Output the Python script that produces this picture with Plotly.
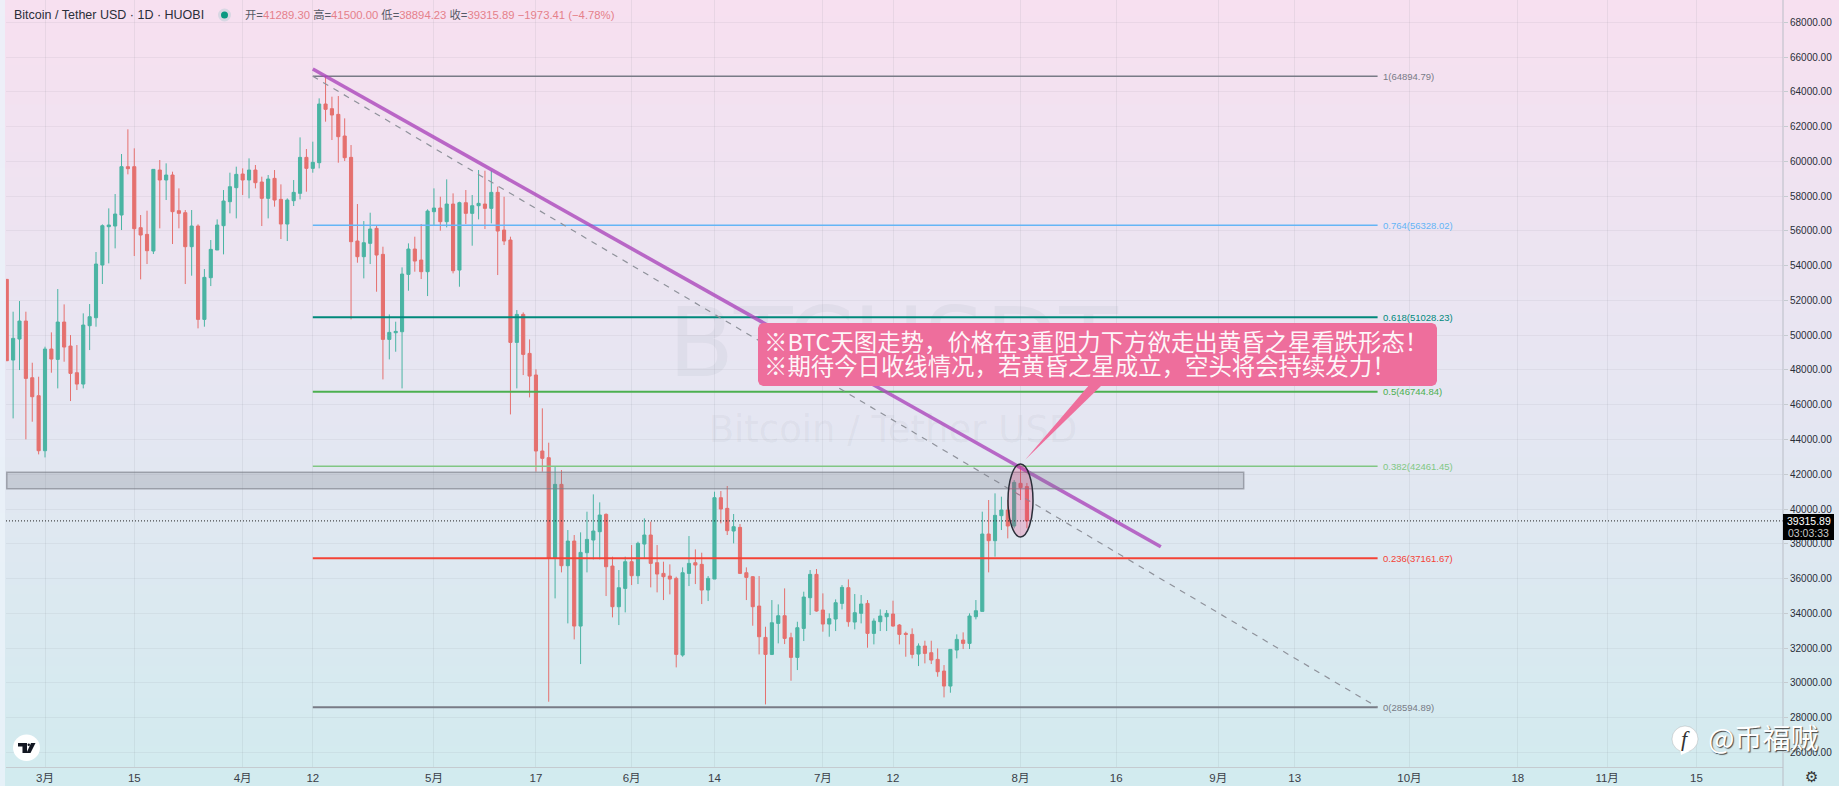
import pandas as pd
import plotly.graph_objects as go

W, H = 1839, 786

# daily candles, Feb 23 -> Aug 2 2021
dates = pd.date_range("2021-02-23", periods=161)
opens = [53211, 48569, 49778, 50814, 47553, 46517, 43353, 49203, 48608, 50756,
         49375, 47841, 47189, 50545, 51005, 54036, 56241, 56280, 56913, 59694,
         59694, 56184, 55800, 54841, 59502, 58927, 59214, 57162, 57047, 55091,
         56280, 50909, 53307, 54899, 56299, 57680, 58486, 59272, 58927, 59502,
         58811, 57872, 59022, 57814, 56394, 57737, 58159, 60230, 59597, 59923,
         63299, 63031, 62704, 61458, 60230, 55416, 54515, 55282, 56145, 54649,
         49758, 50142, 50199, 53498, 54956, 54323, 53652, 57104, 57315, 56529,
         57545, 53747, 57622, 57008, 57449, 57545, 57296, 58216, 56049, 55474,
         49585, 51197, 48952, 47709, 43336, 42952, 37160, 41418, 36738, 38157,
         33266, 37486, 38215, 38694, 39692, 36719, 34379, 35434, 36968, 36163,
         37985, 38503, 36911, 36297, 36143, 36009, 31598, 36297, 36911, 36815,
         35338, 35971, 40651, 40037, 38733, 38944, 36335, 36105, 34417, 32614,
         31636, 33420, 33861, 32596, 31464, 33133, 34897, 36240, 34188, 33382,
         33670, 34571, 35473, 33497, 33996, 34571, 32845, 33516, 33804, 33958,
         33325, 32845, 32787, 31656, 32116, 31733, 31349, 30678, 29815, 31886,
         32461, 32270, 33804, 34111, 38561, 38177, 39616, 39942, 39021, 41476,
         41289.30]
highs = [53211, 51351, 51964, 51351, 48416, 47610, 49337, 50161, 52655, 51772,
         50008, 49433, 51255, 51792, 54784, 56376, 57296, 58121, 60423, 61842,
         60749, 56913, 57162, 59540, 60077, 59886, 59406, 58447, 57200, 57200,
         56376, 53806, 55474, 56663, 58351, 59349, 59694, 59598, 60173, 59790,
         59118, 59214, 59501, 58677, 57871, 58926, 61381, 60710, 61132, 63625,
         64894, 63721, 63759, 62474, 60940, 57545, 56567, 57046, 56337, 55090,
         51197, 50775, 53901, 55282, 55666, 56394, 57238, 58446, 57967, 58964,
         58159, 57679, 58351, 58063, 59501, 59463, 59463, 58542, 57967, 55666,
         51446, 51311, 49758, 48035, 45791, 43815, 42434, 42243, 38790, 38503,
         38656, 39845, 40843, 40382, 39749, 37256, 36489, 37256, 37927, 38119,
         39462, 39270, 37927, 36968, 36815, 36105, 36642, 38445, 37678, 37486,
         36143, 40996, 41034, 41322, 39711, 39135, 36642, 36143, 36143, 33228,
         34762, 34513, 35434, 32883, 33516, 35243, 36489, 36547, 35147, 33996,
         34801, 35626, 35952, 35108, 35051, 34763, 33708, 34226, 34188, 34725,
         33382, 32941, 33133, 32269, 32423, 32423, 31982, 31023, 31924, 32787,
         32903, 33996, 34763, 39846, 40517, 40901, 40709, 40517, 41668, 42473,
         41500.00]
lows = [48531, 45213, 47994, 44005, 45021, 43142, 42969, 47841, 46939, 48474,
        46211, 46844, 46939, 49145, 50488, 52943, 54132, 54995, 56050, 59253,
        54554, 53211, 54093, 54669, 56146, 57776, 55244, 56146, 52943, 53422,
        50392, 50488, 52827, 54899, 54649, 57009, 56721, 58064, 57872, 58447,
        56280, 56721, 57392, 55531, 55416, 57430, 57814, 58255, 59348, 59597,
        62283, 61228, 59923, 60019, 50909, 54169, 53268, 54093, 52501, 47456,
        48607, 49048, 46939, 52558, 53652, 53230, 52251, 56337, 56011, 56202,
        53556, 52788, 56394, 55148, 56663, 56107, 56433, 53460, 55186, 45442,
        46939, 47706, 46421, 42147, 42147, 28913, 34858, 36354, 33420, 32499,
        31080, 36354, 37102, 37102, 34993, 33765, 33324, 34053, 35625, 35683,
        37160, 35491, 35203, 34762, 35088, 30888, 31502, 35568, 35683, 34532,
        34705, 35971, 39174, 38503, 38023, 36259, 34762, 33285, 31636, 28759,
        31598, 32269, 32230, 30121, 30735, 32404, 33900, 34092, 32941, 32653,
        32979, 34226, 33229, 33075, 33420, 32020, 32212, 32979, 32979, 33229,
        32212, 31502, 31406, 30965, 31119, 31081, 30352, 29162, 29431, 31406,
        31944, 31944, 33651, 34111, 36355, 37256, 38791, 38311, 38887, 40517,
        38894.23]
closes = [48531, 49816, 50814, 47515, 46459, 43353, 49203, 48627, 50756, 49317,
          47802, 47189, 50583, 51063, 54093, 56299, 56337, 56970, 59694, 59579,
          56126, 55762, 54860, 59540, 58927, 59214, 57105, 57009, 55091, 56280,
          50909, 53326, 54937, 56337, 57718, 58543, 59253, 58927, 59502, 58773,
          57872, 58984, 57775, 56394, 57775, 58216, 60230, 59597, 59943, 63299,
          62992, 62666, 61419, 60211, 55378, 54515, 55320, 56107, 54611, 49758,
          50161, 50218, 53517, 54956, 54265, 53652, 57142, 57315, 56529, 57545,
          53709, 57622, 57008, 57449, 57583, 57296, 58216, 55992, 55416, 49585,
          51197, 48895, 47648, 43336, 42914, 37160, 41418, 36738, 38157, 33266,
          37505, 38253, 38733, 39653, 36680, 34379, 35472, 36968, 36163, 38023,
          38503, 36872, 36259, 36105, 35971, 31636, 36335, 36872, 36776, 35338,
          36009, 40651, 39999, 38752, 38982, 36297, 36067, 34379, 32653, 31636,
          33458, 33861, 32557, 31464, 33171, 34936, 36240, 34130, 33382, 33689,
          34610, 35492, 33516, 34034, 34533, 32845, 33555, 33843, 33996, 33267,
          32787, 32787, 31637, 32116, 31694, 31311, 30639, 29815, 31924, 32500,
          32270, 33843, 34149, 38561, 38177, 39635, 39942, 39021, 41534, 41227,
          39315.89]

# fib levels
fib_ratios = ["1", "0.764", "0.618", "0.5", "0.382", "0.236", "0"]
fib_prices = [64894.79, 56328.02, 51028.23, 46744.84, 42461.45, 37161.67, 28594.89]
fib_colors = ["#787b86", "#64b5f6", "#00897b", "#4caf50", "#81c784", "#f44336", "#787b86"]
fib_widths = [1.5, 1.5, 2, 2, 1.5, 2, 2]
fib_start = "2021-04-12"
fib_end = "2021-09-26"

# other drawings
trend_x = ["2021-04-12", "2021-08-23"]
trend_y = [65313, 37831]
zone_x = ["2021-02-23", "2021-09-05"]
zone_y = [41168, 42111]
last_price = 39315.89

tick_dates = ["2021-03-01", "2021-03-15", "2021-04-01", "2021-04-12", "2021-05-01", "2021-05-17",
              "2021-06-01", "2021-06-14", "2021-07-01", "2021-07-12", "2021-08-01", "2021-08-16",
              "2021-09-01", "2021-09-13", "2021-10-01", "2021-10-18", "2021-11-01", "2021-11-15"]
tick_text = ["3月", "15", "4月", "12", "5月", "17", "6月", "14", "7月", "12", "8月", "16",
             "9月", "13", "10月", "18", "11月", "15"]
price_ticks = list(range(26000, 70000, 2000))

UP = "#4ab4a3"
DOWN = "#e5706e"
SANS = "Liberation Sans, Noto Sans CJK SC, sans-serif"
CJK = "Noto Sans CJK SC, sans-serif"


def px(x):
    return x / W


def py(y):
    return 1 - y / H


def paper_rect(x0, y0, x1, y1, **kw):
    return dict(type="rect", xref="paper", yref="paper", x0=px(x0), x1=px(x1), y0=py(y0), y1=py(y1), **kw)


def paper_path(points, **kw):
    d = "M " + " L ".join(f"{px(a):.5f},{py(b):.5f}" for a, b in points) + " Z"
    return dict(type="path", xref="paper", yref="paper", path=d, **kw)


def paper_text(x, y, text, font, xanchor="center"):
    return dict(xref="paper", yref="paper", x=px(x), y=py(y), text=text, font=font, showarrow=False,
                xanchor=xanchor, yanchor="middle")


# background gradient, pink on top to pale cyan at the bottom
grad_top = (247, 224, 240)
grad_mid = (230, 230, 242)
grad_bot = (210, 235, 239)
shapes = []
bands = 98
for i in range(bands):
    t = i / (bands - 1)
    a, b, k = (grad_top, grad_mid, t * 2) if t < 0.5 else (grad_mid, grad_bot, t * 2 - 1)
    col = [round(a[j] + (b[j] - a[j]) * k) for j in range(3)]
    shapes.append(paper_rect(0, i * H / bands, W, (i + 1) * H / bands + 1,
                             fillcolor=f"rgb({col[0]},{col[1]},{col[2]})", line_width=0, layer="below"))
shapes.append(paper_rect(0, 0, 5, H, fillcolor="rgba(235,242,250,0.8)", line_width=0, layer="below"))

fig = go.Figure()

fig.add_trace(go.Scatter(x=["2021-07-12"], y=[49035], mode="text", text=["BTCUSDT"], hoverinfo="skip",
                         textfont=dict(family="DejaVu Sans", size=96, color="rgba(120,123,134,0.08)")))
fig.add_trace(go.Scatter(x=["2021-07-12"], y=[44373], mode="text", text=["Bitcoin / Tether USD"], hoverinfo="skip",
                         textfont=dict(family="DejaVu Sans", size=37, color="rgba(120,123,134,0.08)")))

fig.add_trace(go.Candlestick(
    x=dates, open=opens, high=highs, low=lows, close=closes,
    increasing=dict(line=dict(color=UP, width=1), fillcolor=UP),
    decreasing=dict(line=dict(color=DOWN, width=1), fillcolor=DOWN),
    whiskerwidth=0,
))

annotations = []
for ratio, price, col, lw in zip(fib_ratios, fib_prices, fib_colors, fib_widths):
    fig.add_trace(go.Scatter(x=[fib_start, fib_end], y=[price, price], mode="lines",
                             line=dict(color=col, width=lw), hoverinfo="skip"))
    annotations.append(dict(x=fib_end, y=price, text=f"{ratio}({price:.2f})", showarrow=False, xanchor="left",
                            yanchor="middle", xshift=3, font=dict(family=SANS, size=9.5, color=col)))

# dashed fib diagonal + thick trend line + last price line
fig.add_trace(go.Scatter(x=[fib_start, fib_end], y=[fib_prices[0], fib_prices[-1]], mode="lines",
                         line=dict(color="#8f929b", width=1.2, dash="6px,6px"), hoverinfo="skip"))
fig.add_trace(go.Scatter(x=trend_x, y=trend_y, mode="lines",
                         line=dict(color="rgba(171,71,188,0.8)", width=3.6), hoverinfo="skip"))
fig.add_shape(type="line", xref="paper", yref="y", x0=px(6), x1=px(1783), y0=last_price, y1=last_price,
              line=dict(color="#222222", width=1, dash="1px,2px"))

for s in shapes:
    fig.add_shape(**s)

# grey zone
fig.add_shape(type="rect", xref="x", yref="y", x0=zone_x[0], x1=zone_x[1], y0=zone_y[0], y1=zone_y[1],
              fillcolor="rgba(120,123,134,0.25)", line=dict(color="rgba(120,123,134,0.6)", width=1.5))
# ellipse around the last candles
fig.add_shape(type="circle", xref="paper", yref="paper", x0=px(1008), x1=px(1033), y0=py(537), y1=py(464),
              fillcolor="rgba(233,30,99,0.2)", line=dict(color="#2a2e39", width=1.5))

# callout box with its pointer
PINK = "#ee6e9c"
fig.add_shape(**paper_path([(1090, 384), (1103, 384), (1025, 460)], fillcolor=PINK, line_width=0))
r = 5
box = [(758 + r, 323), (1437 - r, 323), (1437 - 1.5, 323 + 1.5), (1437, 323 + r), (1437, 386 - r),
       (1437 - 1.5, 386 - 1.5), (1437 - r, 386), (758 + r, 386), (758 + 1.5, 386 - 1.5), (758, 386 - r),
       (758, 323 + r), (758 + 1.5, 323 + 1.5)]
fig.add_shape(**paper_path(box, fillcolor=PINK, line_width=0))
callout_font = dict(family=CJK, size=23.4, color="rgba(255,255,255,0.95)")
annotations.append(paper_text(762, 341, "※BTC天图走势，价格在3重阻力下方欲走出黄昏之星看跌形态！", callout_font, "left"))
annotations.append(paper_text(762, 365, "※期待今日收线情况，若黄昏之星成立，空头将会持续发力！", callout_font, "left"))

# right axis line, bottom axis and last price tag
fig.add_shape(type="line", xref="paper", yref="paper", x0=px(1783), x1=px(1783), y0=0, y1=1,
              line=dict(color="#b9bdc6", width=1))
fig.add_shape(**paper_rect(1783, 514, 1834, 540, fillcolor="#000000", line_width=0))
annotations.append(paper_text(1808.5, 521, "39315.89", dict(family=SANS, size=10.5, color="#ffffff")))
annotations.append(paper_text(1808.5, 533, "03:03:33", dict(family=SANS, size=10.5, color="#c8c8c8")))
annotations.append(paper_text(1811, 777, "⚙", dict(family="DejaVu Sans", size=15, color="#333333")))

# header line
annotations.append(paper_text(12, 15, "Bitcoin / Tether USD · 1D · HUOBI",
                              dict(family=SANS, size=12.5, color="#2a2e39"), "left"))
fig.add_shape(type="circle", xref="paper", yref="paper", x0=px(218), x1=px(231), y0=py(21.5), y1=py(8.5),
              fillcolor="rgba(38,166,154,0.15)", line_width=0)
fig.add_shape(type="circle", xref="paper", yref="paper", x0=px(221), x1=px(228), y0=py(18.5), y1=py(11.5),
              fillcolor="#089981", line_width=0)
salmon = "#e5808a"
header_vals = [("开", "41289.30"), ("高", "41500.00"), ("低", "38894.23"), ("收", "39315.89")]
ohlc_text = " ".join(f'{k}=<span style="color:{salmon}">{v}</span>' for k, v in header_vals)
ohlc_text += f' <span style="color:{salmon}">−1973.41 (−4.78%)</span>'
annotations.append(paper_text(242.5, 15, ohlc_text, dict(family=SANS, size=11.3, color="#555a66"), "left"))

# tv logo
fig.add_shape(type="circle", xref="paper", yref="paper", x0=px(13), x1=px(40), y0=py(761), y1=py(734.5),
              fillcolor="#ffffff", line_width=0)
fig.add_shape(**paper_path([(18, 743), (27, 743), (27, 753), (22.5, 753), (22.5, 746.5), (18, 746.5)],
                           fillcolor="#131722", line_width=0))
fig.add_shape(type="circle", xref="paper", yref="paper", x0=px(27.5), x1=px(30), y0=py(746), y1=py(743.5),
              fillcolor="#131722", line_width=0)
fig.add_shape(**paper_path([(31, 743), (35.5, 743), (30.5, 753), (26.5, 753)], fillcolor="#131722", line_width=0))

# site watermark, bottom right
fig.add_shape(type="circle", xref="paper", yref="paper", x0=px(1672), x1=px(1698), y0=py(752), y1=py(726),
              fillcolor="#ffffff", line=dict(color="rgba(80,80,80,0.4)", width=0.5))
fig.add_shape(**paper_path([(1680, 748), (1690, 751), (1681, 755)], fillcolor="#ffffff", line_width=0))
annotations.append(paper_text(1685, 738, "<i>f</i>", dict(family="Liberation Serif", size=22, color="#333333")))
annotations.append(paper_text(1706, 737, "@币福贼",
                              dict(family=CJK, size=28, color="#ffffff", shadow="1px 1px 1px #444444"), "left"))

fig.update_layout(
    width=W, height=H,
    margin=dict(l=0, r=0, t=0, b=0, pad=0),
    paper_bgcolor="rgba(0,0,0,0)",
    plot_bgcolor="rgba(0,0,0,0)",
    showlegend=False,
    hovermode=False,
    annotations=annotations,
    xaxis=dict(
        domain=[6 / W, 1783 / W],
        type="date",
        range=["2021-02-22 21:11", "2021-11-28 14:00"],
        rangeslider=dict(visible=False),
        tickmode="array", tickvals=tick_dates, ticktext=tick_text, tickangle=0,
        tickfont=dict(family=SANS, size=11.5, color="#3a3e48"),
        showgrid=True, gridcolor="rgba(120,123,134,0.11)", gridwidth=1,
        showline=True, linecolor="#c5cbd0", linewidth=1, ticks="",
        zeroline=False,
    ),
    yaxis=dict(
        domain=[(H - 767) / H, 1],
        side="right",
        range=[25158, 69283],
        tickmode="array", tickvals=price_ticks, ticktext=[f"{p:.2f}" for p in price_ticks],
        tickfont=dict(family=SANS, size=10, color="#2a2e39"),
        showgrid=True, gridcolor="rgba(120,123,134,0.09)", gridwidth=1,
        ticks="outside", ticklen=4, tickcolor="#c5cbd0",
        showline=False, zeroline=False,
    ),
)

fig.write_html("out.html", config=dict(displayModeBar=False),
               post_script="document.body.style.margin='0';document.body.style.overflow='hidden';")
